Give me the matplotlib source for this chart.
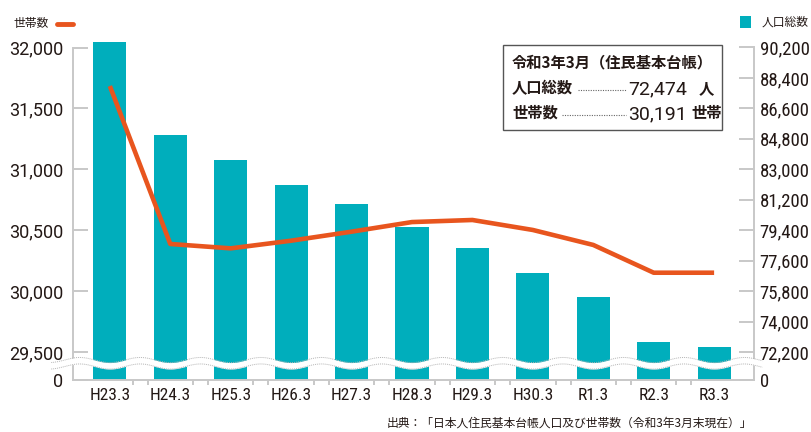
import numpy as np
import matplotlib
matplotlib.use("Agg")
import matplotlib.pyplot as plt
from matplotlib.lines import Line2D
from matplotlib.patches import Rectangle
from matplotlib.transforms import blended_transform_factory

# 年度ラベル / 人口総数 / 世帯数
labels = ["H23.3", "H24.3", "H25.3", "H26.3", "H27.3", "H28.3",
          "H29.3", "H30.3", "R1.3", "R2.3", "R3.3"]
population = [90525, 85028, 83550, 82072, 80949, 79590,
              78330, 76888, 75469, 72792, 72474]
households = [31684, 30387, 30351, 30414, 30488, 30567,
              30584, 30502, 30379, 30151, 30151]
pop_ticks = [0, 72200, 74000, 75800, 77600, 79400, 81200,
             83000, 84800, 86600, 88400, 90200]
hh_ticks = [0, 29500, 30000, 30500, 31000, 31500, 32000]
box_title = "令和3年3月（住民基本台帳）"
box_pop = "72,474"
box_hh = "30,191"

TEAL = "#00AEBC"
ORANGE = "#E8551E"
GRAY = "#c8c8c8"
INK = "#231815"
JP = ["Noto Sans CJK JP", "DejaVu Sans"]
COND = ["Roboto Condensed", "DejaVu Sans"]

W, H = 811, 432


def px(x, y):
    return x / W, 1 - y / H


def broken_scale(lo, base):
    # 0 .. lo squeezed into a short strip below the axis break
    k = (lo - base) / lo
    fwd = lambda v: np.where(np.asarray(v) >= lo, v, base + np.asarray(v) * k)
    inv = lambda u: np.where(np.asarray(u) >= lo, u, (np.asarray(u) - base) / k)
    return fwd, inv


fig = plt.figure(figsize=(W / 100, H / 100), dpi=100)
ax = fig.add_axes([73 / W, (H - 380) / H, (754 - 73) / W, (380 - 40) / H])
ax2 = ax.twinx()

x = np.arange(len(labels))

# bars: population (right axis)
ax.set_yscale("function", functions=broken_scale(72200, 70545))
ax.bar(x, population, width=0.55, color=TEAL, zorder=2)
ax.set_ylim(0, 90643)
ax.set_xlim(-0.61, 10.66)
ax.yaxis.tick_right()
ax.set_yticks(pop_ticks, [f"{t:,}" for t in pop_ticks])
ax.yaxis.set_minor_locator(plt.NullLocator())
ax.tick_params(axis="y", direction="in", length=11, width=1.4, color=GRAY,
               pad=4, labelsize=13.5, labelcolor=INK)
for t in ax.get_yticklabels():
    t.set_family(COND)
ax.set_xticks(x, labels)
ax.set_xticks([i + 0.5 + d for i in range(len(labels) - 1) for d in (-0.125, 0.125)],
              minor=True)
ax.tick_params(axis="x", which="major", length=0, pad=6, labelsize=12.5, labelcolor=INK)
ax.tick_params(axis="x", which="minor", direction="out", length=3.6, width=1.4, color=GRAY)
for t in ax.get_xticklabels():
    t.set_family(COND)
for s in ("left", "top"):
    ax.spines[s].set_visible(False)
ax.spines["right"].set_bounds(0, 90200)
ax.spines["right"].set_color(GRAY)
ax.spines["right"].set_linewidth(1.4)
ax.spines["bottom"].set_color(GRAY)
ax.spines["bottom"].set_linewidth(1.4)

# line: households (left axis)
ax2.set_yscale("function", functions=broken_scale(29500, 29270))
ax2.plot(x, households, color=ORANGE, lw=3.3, zorder=3, solid_capstyle="butt")
ax2.set_ylim(0, 32062)
ax2.yaxis.tick_left()
ax2.set_yticks(hh_ticks, [f"{t:,}" for t in hh_ticks])
ax2.yaxis.set_minor_locator(plt.NullLocator())
ax2.tick_params(axis="y", direction="in", length=11, width=1.4, color=GRAY,
                pad=7, labelsize=13, labelcolor=INK)
for t in ax2.get_yticklabels():
    t.set_family("Roboto")
for s in ("right", "top", "bottom"):
    ax2.spines[s].set_visible(False)
ax2.spines["left"].set_bounds(0, 32000)
ax2.spines["left"].set_color(GRAY)
ax2.spines["left"].set_linewidth(1.4)

# wavy break band
tr = blended_transform_factory(ax2.transData, ax2.transAxes)
xs = np.linspace(-0.97, 10.8, 800)
amp = 0.0075
upper = 0.0588 - amp * np.cos(2 * np.pi * xs)
lower = 0.0397 - amp * np.cos(2 * np.pi * xs)
ax2.fill_between(xs, lower, upper, color="white", lw=0, transform=tr,
                 zorder=10, clip_on=False)
for yy in (upper, lower):
    ax2.plot(xs, yy, color="#b5b5b5", lw=0.7, ls=(0, (1, 1)), transform=tr,
             zorder=11, clip_on=False)

# legends
fig.text(*px(13, 24), "世帯数", family=JP, fontsize=8.5, color=INK, va="center")
fig.add_artist(Line2D([57 / W, 73 / W], [1 - 24 / H] * 2, transform=fig.transFigure,
                      color=ORANGE, lw=3.5, solid_capstyle="round"))
fig.add_artist(Rectangle(px(740, 28), 11 / W, 12 / H, transform=fig.transFigure,
                         color=TEAL, lw=0))
fig.text(*px(762, 22), "人口総数", family=JP, fontsize=8.5, color=INK, va="center")

# info box
fig.add_artist(Rectangle(px(503, 130), (722 - 503) / W, (130 - 45) / H,
                         transform=fig.transFigure, fill=False, ec="#555555", lw=1))
fig.text(*px(512, 62), box_title, family=JP, fontsize=11,
         weight="bold", color=INK, va="center")
fig.text(*px(512, 88), "人口総数", family=JP, fontsize=11, weight="bold",
         color=INK, va="center")
fig.text(*px(512, 113), "世帯数", family=JP, fontsize=11, weight="bold",
         color=INK, va="center")
for y0, x0 in ((90, 578), (115, 562)):
    fig.add_artist(Line2D([x0 / W, 626 / W], [1 - y0 / H] * 2, transform=fig.transFigure,
                          color="#666666", lw=0.8, ls=(0, (1, 1.2))))
fig.text(*px(687, 89), box_pop, family="Roboto", fontsize=14,
         color=INK, va="center", ha="right")
fig.text(*px(706, 88), "人", family=JP, fontsize=11, weight="bold", color=INK,
         va="center", ha="center")
fig.text(*px(687, 114), box_hh, family="Roboto", fontsize=14,
         color=INK, va="center", ha="right")
fig.text(*px(691, 113), "世帯", family=JP, fontsize=11, weight="bold", color=INK,
         va="center")

fig.text(*px(752, 423), "出典：「日本人住民基本台帳人口及び世帯数（令和3年3月末現在）」",
         family=JP, fontsize=8.5, color=INK, va="center", ha="right")

fig.savefig("out.png", dpi=100)
